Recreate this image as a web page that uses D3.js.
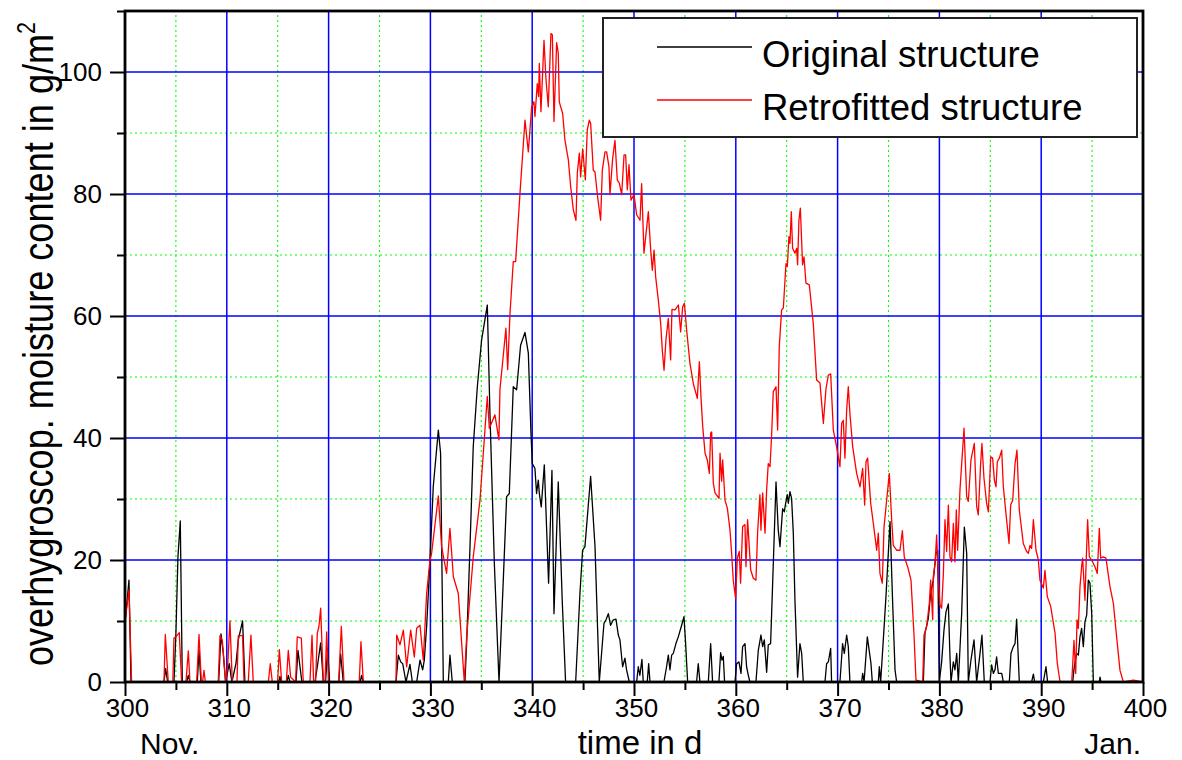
<!DOCTYPE html>
<html>
<head>
<meta charset="utf-8">
<script src="https://cdn.jsdelivr.net/npm/d3@7"></script>
<style>
  body { margin: 0; background: #fff; }
  text { font-family: "Liberation Sans", Arial, Helvetica, sans-serif; fill: #000; }
</style>
</head>
<body>
<svg id="chart" width="1182" height="760"></svg>
<script>
// [day, g/m²]
const original = [
  [300.0, 9.5], [300.39, 16.7], [300.59, 0],
  [303.83, 0], [303.99, 2.2], [304.19, 0],
  [304.81, 0], [305.0, 7.9], [305.2, 20.5], [305.43, 26.4], [305.63, 0],
  [306.05, 0], [306.22, 1.1], [306.38, 0],
  [307.1, 0], [307.27, 5.2], [307.46, 0],
  [309.2, 0], [309.43, 7.9], [309.66, 4.6], [309.88, 0], [310.24, 3.0], [310.5, 0],
  [310.9, 3.0], [311.13, 6.9], [311.55, 10.0], [311.78, 0],
  [315.1, 0], [315.22, 0.9], [315.35, 0],
  [315.9, 0], [316.04, 1.1], [316.2, 0],
  [316.8, 0], [316.99, 5.2], [317.19, 2.5], [317.38, 0],
  [318.66, 0], [318.89, 2.5], [319.22, 6.4], [319.48, 0],
  [319.7, 0], [319.9, 5.5], [320.1, 0],
  [321.0, 0], [321.18, 4.6], [321.44, 0],
  [323.1, 0], [323.24, 1.1], [323.4, 0],
  [326.62, 0], [326.85, 4.4], [327.08, 3.3], [327.28, 3.0], [327.6, 0], [327.99, 2.9], [328.23, 0],
  [328.65, 0], [328.98, 3.6], [329.24, 2.0], [329.4, 3.6], [329.63, 9.1], [329.96, 20.0],
  [330.28, 32.0], [330.78, 41.3], [331.0, 37.5], [331.27, 0], [331.76, 0], [331.92, 4.4], [332.15, 0],
  [333.39, 0], [333.56, 6.3], [333.89, 22.2], [334.21, 38.6], [334.61, 48.4], [335.03, 56.1],
  [335.59, 61.8], [335.85, 44.0], [336.28, 19.5], [336.74, 0], [337.16, 16.7], [337.49, 30.4],
  [337.75, 30.9], [338.14, 48.4], [338.47, 47.9], [338.86, 55.2], [339.29, 57.3], [339.62, 53.9],
  [339.88, 40.8], [340.01, 35.8], [340.27, 35.0], [340.43, 30.9], [340.6, 33.1], [340.7, 30.9],
  [340.89, 28.7], [341.19, 35.6], [341.61, 16.2], [341.94, 34.7], [342.14, 11.2], [342.56, 32.8],
  [342.96, 12.9], [343.28, 0], [344.27, 0], [344.69, 14.5], [344.95, 21.6], [345.18, 22.2],
  [345.74, 33.7], [346.17, 22.2], [346.59, 0], [347.05, 9.6], [347.25, 10.2], [347.48, 11.2],
  [347.7, 9.3], [347.97, 10.2], [348.23, 10.3], [348.46, 7.7], [348.62, 6.9], [348.88, 2.5],
  [349.11, 3.9], [349.27, 2.0], [349.54, 0], [350.26, 0], [350.42, 2.5], [350.58, 1.1],
  [350.78, 3.7], [350.91, 0], [351.3, 0], [351.44, 3.0], [351.57, 0],
  [352.94, 0], [353.2, 2.5], [353.37, 4.4], [353.53, 2.0], [353.7, 4.4], [353.86, 4.7],
  [354.12, 6.3], [354.35, 7.4], [354.68, 9.3], [354.91, 10.7], [355.07, 6.3], [355.27, 0],
  [356.15, 0], [356.31, 3.0], [356.48, 0], [357.3, 0], [357.53, 6.3], [357.72, 0],
  [358.34, 0], [358.51, 4.8], [358.64, 3.6], [358.77, 4.2], [358.9, 0],
  [359.92, 0], [360.08, 3.0], [360.31, 3.3], [360.51, 1.4], [360.67, 5.8], [360.9, 6.3],
  [361.06, 2.5], [361.23, 1.1], [361.39, 0], [361.98, 0], [362.21, 5.2], [362.47, 7.7],
  [362.64, 5.8], [362.8, 6.9], [363.03, 1.6], [363.19, 6.1], [363.42, 6.3], [363.62, 16.2],
  [363.95, 32.8], [364.17, 24.9], [364.34, 22.2], [364.6, 28.4], [364.76, 27.9], [364.93, 29.6],
  [365.06, 30.7], [365.16, 29.3], [365.32, 31.2], [365.48, 30.1], [365.65, 24.4], [365.81, 13.4],
  [366.07, 0.8], [366.3, 6.3], [366.47, 4.7], [366.63, 0],
  [368.76, 0], [368.92, 3.0], [369.09, 3.3], [369.32, 5.5], [369.41, 0],
  [370.23, 0], [370.49, 6.3], [370.66, 4.7], [370.89, 7.7], [371.05, 5.8], [371.21, 0],
  [372.36, 0], [372.46, 1.4], [372.6, 0], [372.92, 7.4], [373.28, 3.0], [373.41, 0],
  [374.0, 0], [374.1, 2.5], [374.23, 0], [374.49, 6.9], [374.75, 14.0], [375.15, 26.3],
  [375.41, 12.9], [375.64, 2.0], [375.8, 0],
  [378.42, 0], [378.58, 8.0], [378.91, 10.4], [379.14, 14.5], [379.4, 16.7], [379.67, 21.1],
  [379.83, 21.6], [379.99, 0], [380.22, 3.3], [380.45, 8.5], [380.65, 11.5], [380.88, 12.8],
  [381.04, 4.1], [381.14, 0], [381.37, 3.3], [381.53, 2.0], [381.7, 4.7], [381.86, 0],
  [382.19, 11.3], [382.45, 25.4], [382.68, 21.1], [382.84, 0], [383.1, 3.6], [383.4, 6.9],
  [383.66, 0], [383.99, 4.7], [384.18, 7.7], [384.41, 0], [384.97, 0], [385.13, 2.8],
  [385.3, 1.4], [385.46, 2.0], [385.62, 4.1], [385.79, 1.4], [386.12, 1.4], [386.28, 0],
  [386.87, 0], [387.03, 4.7], [387.26, 5.8], [387.43, 6.3], [387.59, 10.3], [387.85, 0],
  [389.06, 0], [389.23, 1.3], [389.36, 0], [390.21, 0], [390.47, 2.5], [390.63, 0],
  [393.09, 0], [393.25, 2.5], [393.48, 4.7], [393.65, 4.4], [393.81, 7.4], [393.97, 8.8],
  [394.14, 5.8], [394.3, 9.9], [394.47, 11.0], [394.63, 16.7], [394.79, 16.2], [394.96, 11.3],
  [395.12, 0], [395.71, 0], [395.78, 0.8], [395.87, 0], [400, 0]
];

const retrofitted = [
  [300.0, 9.9], [300.39, 15.1], [300.65, 0],
  [303.83, 0], [303.96, 7.8], [304.25, 0],
  [304.7, 0], [304.81, 7.2], [305.0, 7.4], [305.33, 8.1], [305.56, 0],
  [305.99, 0], [306.22, 5.1], [306.38, 0],
  [307.04, 0], [307.27, 7.8], [307.5, 0], [307.62, 0], [307.76, 1.9], [307.89, 0],
  [309.16, 0], [309.33, 7.6], [309.56, 6.8], [309.88, 0], [310.08, 2.5], [310.31, 10.0], [310.54, 0],
  [311.0, 0], [311.13, 7.6], [311.55, 7.6], [311.69, 0],
  [312.11, 0], [312.37, 7.7], [312.6, 0],
  [314.08, 0], [314.27, 3.0], [314.47, 0],
  [314.99, 0], [315.16, 5.3], [315.39, 0],
  [315.85, 0], [316.04, 5.2], [316.27, 0.8], [316.76, 0], [316.92, 7.4], [317.32, 7.2], [317.51, 0],
  [318.17, 0], [318.37, 7.7], [318.53, 0], [318.72, 0], [318.89, 8.0], [319.05, 9.1], [319.22, 12.1],
  [319.48, 0], [319.65, 0], [319.81, 8.2], [320.0, 0],
  [320.99, 0], [321.25, 9.1], [321.51, 0],
  [323.01, 0], [323.18, 6.6], [323.41, 0],
  [326.62, 0], [326.69, 7.7], [327.01, 6.1], [327.34, 8.5], [327.67, 2.5], [328.06, 8.5],
  [328.42, 4.1], [328.65, 8.8], [328.98, 9.3], [329.3, 3.6], [329.63, 14.5], [329.96, 20.0],
  [330.12, 21.1], [330.78, 30.5], [331.1, 22.2], [331.59, 17.8], [331.92, 25.2], [332.25, 17.3],
  [332.74, 14.5], [333.33, 0], [333.56, 7.4], [334.21, 20.5], [334.87, 29.8], [335.59, 46.8],
  [335.79, 41.6], [336.34, 43.8], [336.73, 39.7], [336.83, 47.9], [337.42, 58.0], [337.59, 51.2],
  [337.82, 60.4], [338.14, 68.9], [338.37, 68.9], [338.8, 80.1], [339.29, 92.1], [339.62, 86.9],
  [339.95, 94.3], [340.17, 95.1], [340.27, 92.7], [340.5, 98.1], [340.63, 96.0], [340.7, 101.4],
  [340.86, 93.5], [341.16, 105.2], [341.35, 98.9], [341.58, 94.3], [341.84, 106.3], [341.98, 106.1],
  [342.14, 91.9], [342.4, 104.8], [342.56, 103.1], [342.66, 95.1], [342.99, 93.2], [343.22, 88.8],
  [343.55, 85.6], [343.78, 81.2], [344.04, 77.4], [344.3, 75.7], [344.43, 83.4], [344.63, 86.7],
  [344.76, 82.8], [344.96, 87.4], [345.22, 82.3], [345.41, 90.5], [345.61, 92.1], [345.74, 91.6],
  [346.0, 83.9], [346.17, 83.6], [346.4, 79.9], [346.72, 75.7], [346.89, 83.9], [347.15, 86.9],
  [347.31, 86.9], [347.54, 84.5], [347.64, 79.9], [347.9, 85.8], [348.13, 88.8], [348.36, 82.3],
  [348.56, 81.8], [348.79, 79.9], [349.02, 86.4], [349.18, 86.4], [349.34, 80.7], [349.51, 84.8],
  [349.7, 79.0], [350.0, 79.9], [350.26, 76.6], [350.59, 75.7], [350.75, 81.7], [350.98, 70.3],
  [351.41, 77.1], [351.64, 70.8], [351.8, 67.5], [351.97, 70.8], [352.13, 66.4], [352.39, 62.6],
  [352.62, 58.8], [352.78, 54.4], [352.95, 51.1], [353.14, 56.1], [353.37, 59.6], [353.6, 52.8],
  [353.73, 61.1], [354.03, 61.0], [354.36, 61.8], [354.58, 57.4], [354.78, 61.5], [354.95, 62.1],
  [355.17, 57.7], [355.5, 52.2], [355.83, 48.9], [356.22, 46.5], [356.42, 52.5], [356.58, 46.7],
  [356.75, 41.9], [356.98, 37.5], [357.2, 36.4], [357.4, 34.2], [357.53, 40.8], [357.63, 41.0],
  [357.79, 32.6], [357.96, 31.0], [358.35, 30.1], [358.45, 37.5], [358.61, 32.9], [358.71, 36.4],
  [358.94, 29.8], [359.17, 28.5], [359.43, 24.9], [359.59, 21.1], [359.75, 16.7], [359.98, 13.7],
  [360.15, 20.3], [360.34, 21.4], [360.47, 16.2], [360.67, 25.5], [360.9, 25.8], [361.0, 18.9],
  [361.16, 26.6], [361.46, 18.4], [361.72, 17.0], [361.98, 16.7], [362.14, 24.4], [362.37, 30.7],
  [362.47, 24.9], [362.64, 31.0], [362.87, 24.4], [363.03, 31.5], [363.19, 35.8], [363.36, 35.3],
  [363.52, 40.5], [363.68, 47.6], [363.95, 48.4], [364.11, 41.3], [364.27, 55.0], [364.5, 61.0],
  [364.67, 61.3], [364.93, 68.6], [365.06, 68.1], [365.22, 73.0], [365.32, 71.9], [365.45, 77.1],
  [365.58, 71.1], [365.81, 70.3], [365.98, 71.1], [366.07, 68.4], [366.2, 75.7], [366.34, 77.7],
  [366.56, 68.4], [366.7, 69.7], [366.89, 65.4], [367.22, 65.1], [367.61, 58.8], [367.94, 49.5],
  [368.27, 49.0], [368.6, 42.4], [368.86, 48.1], [369.09, 50.3], [369.32, 50.5], [369.58, 41.3],
  [369.9, 38.6], [370.23, 35.3], [370.4, 42.4], [370.56, 42.9], [370.72, 36.7], [370.89, 44.6],
  [371.05, 48.4], [371.21, 44.0], [371.48, 38.6], [371.87, 34.2], [372.2, 32.0], [372.46, 35.0],
  [372.66, 29.0], [372.79, 36.1], [372.95, 36.7], [373.25, 29.3], [373.51, 26.0], [373.84, 21.6],
  [374.0, 24.4], [374.16, 17.8], [374.39, 16.2], [374.56, 25.4], [374.82, 29.8], [375.08, 34.2],
  [375.31, 26.6], [375.47, 22.4], [375.8, 21.6], [376.13, 21.6], [376.36, 24.8], [376.55, 20.5],
  [376.88, 18.9], [377.21, 16.7], [377.5, 7.9], [377.7, 0.3], [378.36, 0], [378.49, 7.7],
  [378.75, 9.1], [379.01, 12.9], [379.14, 16.7], [379.34, 10.2], [379.4, 17.3], [379.57, 19.4],
  [379.73, 24.1], [379.9, 16.7], [380.06, 12.6], [380.22, 12.1], [380.39, 17.8], [380.55, 26.6],
  [380.71, 21.4], [380.88, 29.0], [381.04, 20.5], [381.2, 19.7], [381.37, 26.0], [381.53, 19.7],
  [381.66, 28.2], [381.79, 21.6], [382.02, 31.5], [382.42, 41.6], [382.68, 30.4], [382.84, 29.6],
  [383.1, 36.4], [383.43, 39.1], [383.66, 28.8], [383.82, 27.4], [384.05, 35.8], [384.18, 39.1],
  [384.38, 33.4], [384.64, 29.3], [384.81, 27.9], [385.04, 36.9], [385.23, 36.7], [385.4, 33.1],
  [385.56, 32.0], [385.69, 36.1], [385.89, 36.7], [386.12, 38.0], [386.28, 32.0], [386.54, 27.6],
  [386.84, 22.7], [387.0, 29.0], [387.2, 29.8], [387.43, 35.8], [387.62, 38.0], [387.85, 28.2],
  [388.24, 22.7], [388.57, 21.4], [388.74, 21.1], [388.9, 22.4], [389.06, 21.9], [389.23, 26.6],
  [389.49, 21.6], [389.72, 20.0], [389.88, 16.7], [390.21, 15.4], [390.37, 18.3], [390.6, 14.0],
  [390.93, 12.4], [391.36, 8.0], [391.58, 3.1], [391.85, 0], [393.0, 0], [393.22, 6.8],
  [393.39, 1.4], [393.52, 10.2], [393.65, 8.8], [393.81, 15.6], [393.97, 18.9], [394.07, 20.3],
  [394.3, 13.4], [394.4, 18.9], [394.56, 26.6], [394.73, 20.5], [394.96, 20.0], [395.28, 18.9],
  [395.51, 17.8], [395.71, 25.2], [395.84, 20.3], [396.1, 20.5], [396.36, 20.3], [396.76, 15.6],
  [397.09, 12.9], [397.41, 7.4], [397.74, 1.9], [398.07, 0], [399.05, 0.3], [400, 0]
];

const xTicks = d3.range(300, 401, 10);
const xMinorTicks = d3.range(305, 400, 10);
const yTicks = d3.range(0, 101, 20);
const yMinorTicks = d3.range(10, 111, 20);
const seriesNames = ['Original structure', 'Retrofitted structure'];
const seriesColors = ['#000000', '#ff0000'];

const margin = { left: 125, right: 39, top: 11, bottom: 78 };
const width = 1182, height = 760;

const svg = d3.select('#chart');

const x = d3.scaleLinear().domain([300, 400]).range([margin.left, width - margin.right]);
const y = d3.scaleLinear().domain([0, 110]).range([height - margin.bottom, margin.top]);

const grid = svg.append('g').attr('class', 'grid');

// dotted green minor grid
grid.selectAll('.minor-x')
  .data(xMinorTicks)
  .enter()
  .append('line')
  .attr('x1', d => x(d)).attr('x2', d => x(d))
  .attr('y1', y(0)).attr('y2', y(110))
  .attr('stroke', '#00ff00').attr('stroke-width', 1.1)
  .attr('stroke-dasharray', '2,3');

grid.selectAll('.minor-y')
  .data(yMinorTicks.filter(d => d < 110))
  .enter()
  .append('line')
  .attr('x1', x(300)).attr('x2', x(400))
  .attr('y1', d => y(d)).attr('y2', d => y(d))
  .attr('stroke', '#00ff00').attr('stroke-width', 1.1)
  .attr('stroke-dasharray', '2,3');

// solid blue major grid
grid.selectAll('.major-x')
  .data(xTicks.slice(1, -1))
  .enter()
  .append('line')
  .attr('x1', d => x(d)).attr('x2', d => x(d))
  .attr('y1', y(0)).attr('y2', y(110))
  .attr('stroke', '#0000ff').attr('stroke-width', 1.5);

grid.selectAll('.major-y')
  .data(yTicks.slice(1))
  .enter()
  .append('line')
  .attr('x1', x(300)).attr('x2', x(400))
  .attr('y1', d => y(d)).attr('y2', d => y(d))
  .attr('stroke', '#0000ff').attr('stroke-width', 1.5);

const line = d3.line()
  .x(d => x(d[0]))
  .y(d => y(d[1]));

[original, retrofitted].forEach((series, i) => {
  svg.append('path')
    .datum(series)
    .attr('fill', 'none')
    .attr('stroke', seriesColors[i])
    .attr('stroke-width', 1.3)
    .attr('stroke-linejoin', 'round')
    .attr('d', line);
});

// axes
const xAxis = svg.append('g')
  .attr('transform', `translate(0,${y(0)})`)
  .call(d3.axisBottom(x).tickValues(xTicks).tickSize(14).tickPadding(3).tickFormat(d3.format('d')));

svg.append('g')
  .attr('transform', `translate(0,${y(0)})`)
  .call(d3.axisBottom(x).tickValues(xMinorTicks).tickSize(8).tickFormat(''));

svg.append('g')
  .attr('transform', `translate(${x(300)},0)`)
  .call(d3.axisLeft(y).tickValues(yTicks).tickSize(15).tickPadding(8));

svg.append('g')
  .attr('transform', `translate(${x(300)},0)`)
  .call(d3.axisLeft(y).tickValues(yMinorTicks).tickSize(8).tickFormat(''));

svg.selectAll('.domain').remove();
svg.selectAll('.tick line').attr('stroke', '#000').attr('stroke-width', 2);
svg.selectAll('.tick text')
  .attr('font-family', '"Liberation Sans", Arial, sans-serif')
  .attr('font-size', 26)
  .attr('fill', '#000');
xAxis.selectAll('.tick text').attr('dx', 2);

// frame
svg.append('rect')
  .attr('x', x(300)).attr('y', y(110))
  .attr('width', x(400) - x(300)).attr('height', y(0) - y(110))
  .attr('fill', 'none')
  .attr('stroke', '#000')
  .attr('stroke-width', 2.8);

// legend
const legend = svg.append('g').attr('class', 'legend');

legend.append('rect')
  .attr('x', 603).attr('y', 18)
  .attr('width', 534).attr('height', 119)
  .attr('fill', '#fff')
  .attr('stroke', '#222')
  .attr('stroke-width', 2);

const legendItem = legend.selectAll('.item')
  .data(seriesNames)
  .enter()
  .append('g')
  .attr('transform', (d, i) => `translate(0,${47 + i * 53})`);

legendItem.append('line')
  .attr('x1', 657).attr('x2', 752)
  .attr('stroke', (d, i) => seriesColors[i])
  .attr('stroke-width', 1.5);

legendItem.append('text')
  .attr('x', 762).attr('y', 20)
  .attr('font-size', 36.5)
  .text(d => d);

// axis titles
svg.append('text')
  .attr('x', 640).attr('y', 754)
  .attr('text-anchor', 'middle')
  .attr('font-size', 33)
  .text('time in d');

svg.append('text')
  .attr('x', 140).attr('y', 754)
  .attr('font-size', 30)
  .text('Nov.');

svg.append('text')
  .attr('x', 1141).attr('y', 754)
  .attr('text-anchor', 'end')
  .attr('font-size', 30)
  .text('Jan.');

const yLabel = svg.append('text')
  .attr('transform', 'translate(53,344) rotate(-90) scale(0.86,1)')
  .attr('text-anchor', 'middle')
  .attr('font-size', 42);

yLabel.append('tspan').text('overhygroscop. moisture content in g/m');
yLabel.append('tspan')
  .attr('font-size', 25)
  .attr('dy', -18)
  .text('2');
</script>
</body>
</html>
